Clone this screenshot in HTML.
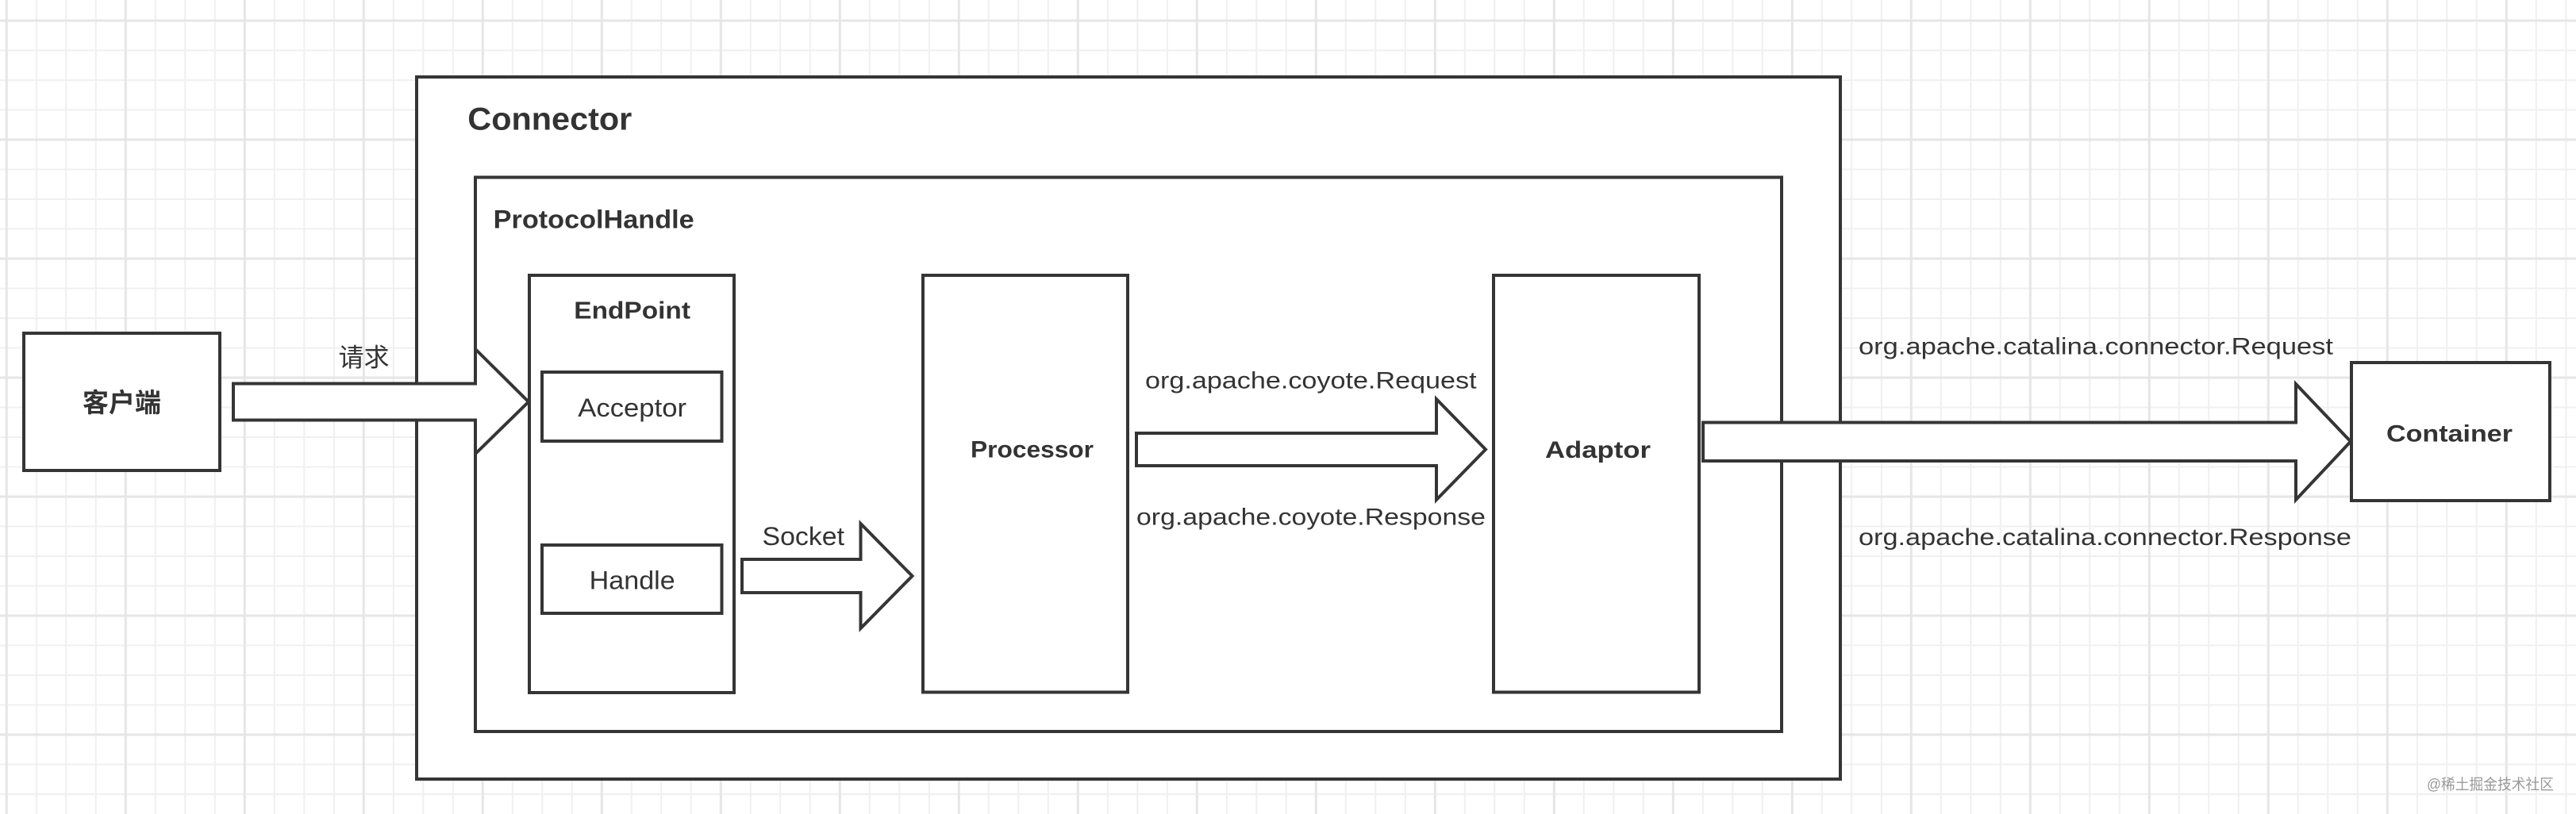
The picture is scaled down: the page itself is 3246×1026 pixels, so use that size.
<!DOCTYPE html>
<html>
<head>
<meta charset="utf-8">
<style>
  html, body { margin: 0; padding: 0; background: #fff; }
  svg { display: block; }
  text { font-family: "Liberation Sans", "Noto Sans CJK SC", sans-serif; fill: #333; }
  .b { font-weight: bold; }
</style>
</head>
<body>
<svg width="3246" height="1026" viewBox="0 0 3246 1026" xmlns="http://www.w3.org/2000/svg">
  <defs>
    <pattern id="g" x="6.3" y="24" width="150" height="150" patternUnits="userSpaceOnUse">
      <rect width="150" height="150" fill="#ffffff"/>
      <g stroke="#f0f0f0" stroke-width="2">
        <line x1="39.5" y1="0" x2="39.5" y2="150"/>
        <line x1="77" y1="0" x2="77" y2="150"/>
        <line x1="114.5" y1="0" x2="114.5" y2="150"/>
        <line x1="0" y1="39.5" x2="150" y2="39.5"/>
        <line x1="0" y1="77" x2="150" y2="77"/>
        <line x1="0" y1="114.5" x2="150" y2="114.5"/>
      </g>
      <g stroke="#e6e6e6" stroke-width="3">
        <line x1="2" y1="0" x2="2" y2="150"/>
        <line x1="0" y1="2" x2="150" y2="2"/>
      </g>
    </pattern>
  </defs>

  <rect x="0" y="0" width="3246" height="1026" fill="url(#g)"/>

  <!-- boxes -->
  <g fill="#ffffff" stroke="#353535" stroke-width="4">
    <rect x="525" y="97" width="1794" height="885"/>
    <rect x="599" y="223.5" width="1646" height="698.5"/>
    <rect x="667" y="347" width="258" height="526"/>
    <rect x="683" y="469" width="226.5" height="87"/>
    <rect x="683" y="687" width="226.5" height="86"/>
    <rect x="1163" y="347" width="258" height="525.5"/>
    <rect x="1882" y="347" width="259" height="525.5"/>
    <rect x="30" y="420" width="247" height="173"/>
    <rect x="2963" y="457" width="250" height="174"/>
  </g>

  <!-- arrows -->
  <g fill="#ffffff" stroke="#353535" stroke-width="4" stroke-linejoin="miter">
    <polygon points="294,483.5 599,483.5 599,440 666,506.5 599,572 599,529.5 294,529.5"/>
    <polygon points="935,705 1084.5,705 1084.5,660 1149.5,726 1084.5,792 1084.5,747 935,747"/>
    <polygon points="1432,546 1810,546 1810,503 1872,566.5 1810,630 1810,587 1432,587"/>
    <polygon points="2146,532.5 2893,532.5 2893,484 2962,556.5 2893,630 2893,581 2146,581"/>
  </g>

  <!-- labels -->
  <text class="b" x="589.3" y="163.3" font-size="39.5" textLength="207" lengthAdjust="spacingAndGlyphs">Connector</text>
  <text class="b" x="621.7" y="287.5" font-size="32" textLength="253" lengthAdjust="spacingAndGlyphs">ProtocolHandle</text>
  <text class="b" x="723.3" y="401.5" font-size="31" textLength="146.7" lengthAdjust="spacingAndGlyphs">EndPoint</text>
  <text x="728.3" y="525" font-size="32" textLength="136.7" lengthAdjust="spacingAndGlyphs">Acceptor</text>
  <text x="742.7" y="742.7" font-size="32" textLength="108" lengthAdjust="spacingAndGlyphs">Handle</text>
  <text x="960.5" y="687" font-size="32" textLength="103.5" lengthAdjust="spacingAndGlyphs">Socket</text>
  <text class="b" x="1223" y="576.5" font-size="30" textLength="155" lengthAdjust="spacingAndGlyphs">Processor</text>
  <text class="b" x="1947" y="577" font-size="30" textLength="133" lengthAdjust="spacingAndGlyphs">Adaptor</text>
  <text class="b" x="3007" y="556.7" font-size="30" textLength="159" lengthAdjust="spacingAndGlyphs">Container</text>

  <text x="1443" y="489.4" font-size="30" textLength="417.6" lengthAdjust="spacingAndGlyphs">org.apache.coyote.Request</text>
  <text x="1432" y="661.6" font-size="30" textLength="440" lengthAdjust="spacingAndGlyphs">org.apache.coyote.Response</text>
  <text x="2342" y="446.7" font-size="30" textLength="598" lengthAdjust="spacingAndGlyphs">org.apache.catalina.connector.Request</text>
  <text x="2342" y="687" font-size="30" textLength="621" lengthAdjust="spacingAndGlyphs">org.apache.catalina.connector.Response</text>

  <text class="b" x="153.5" y="519" font-size="33" text-anchor="middle">客户端</text>
  <text x="458.5" y="461.5" font-size="32" text-anchor="middle">请求</text>

  <text x="3058" y="995" font-size="19" textLength="160" lengthAdjust="spacingAndGlyphs" style="fill:#9a9a9a">@稀土掘金技术社区</text>
</svg>
</body>
</html>
